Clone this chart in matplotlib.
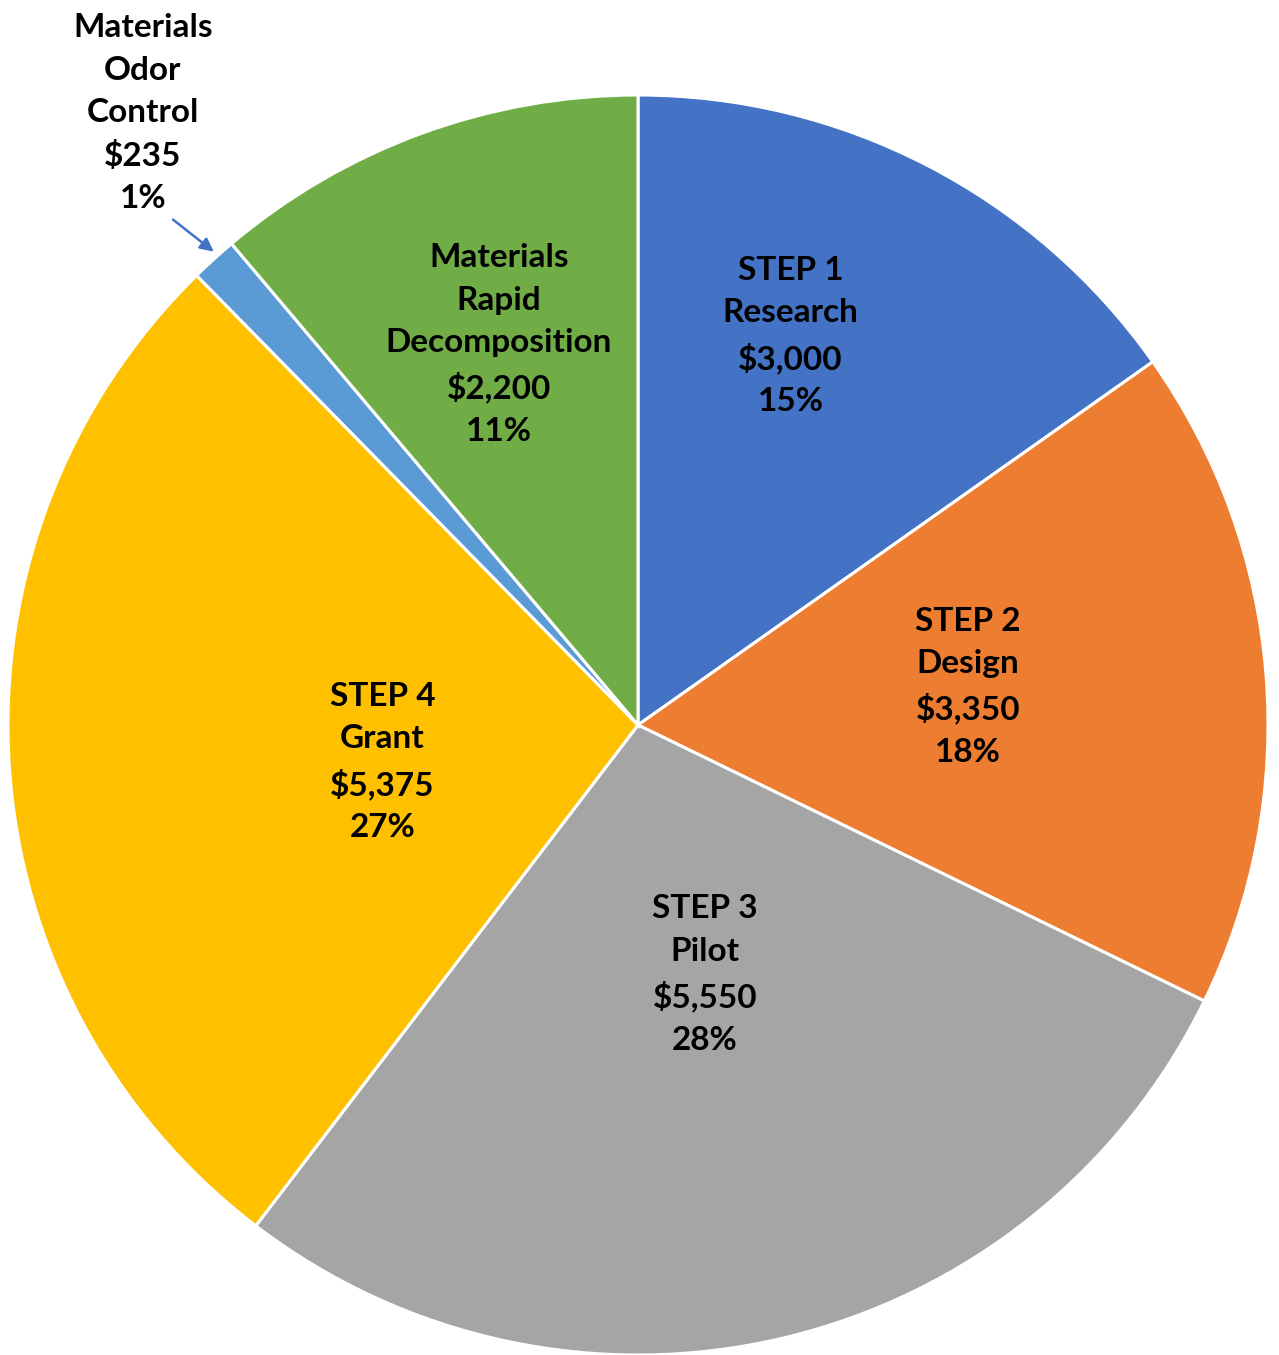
import numpy as np
import matplotlib
matplotlib.use("Agg")
from matplotlib import pyplot as plt

# data
names = ["STEP 1\nResearch", "STEP 2\nDesign", "STEP 3\nPilot", "STEP 4\nGrant",
         "Materials\nOdor\nControl", "Materials\nRapid\nDecomposition"]
costs = [3000, 3350, 5550, 5375, 235, 2200]
pct_labels = ["15%", "18%", "28%", "27%", "1%", "11%"]  # as printed on the chart
colors = ["#4472C4", "#ED7D31", "#A5A5A5", "#FFC000", "#5B9BD5", "#70AD47"]
# label radius (fraction of pie radius) and angle nudge in degrees
label_r = [0.663, 0.527, 0.41, 0.41, None, 0.643]
label_nudge = [6, 2, 1.7, 4.7, 0, 0]

plt.rcParams['font.family'] = ['Lato', 'DejaVu Sans']

fig = plt.figure(figsize=(12.79, 13.55), dpi=100)
ax = fig.add_axes([8 / 1279, 0, 1260 / 1279, 1260 / 1355])

wedges, _ = ax.pie(costs, colors=colors, startangle=90, counterclock=False,
                   radius=1, wedgeprops=dict(edgecolor="white", linewidth=2.2))
ax.set_xlim(-1, 1)
ax.set_ylim(-1, 1)
ax.set_aspect("equal")
ax.axis("off")

for i, w in enumerate(wedges):
    txt = f"{names[i]}\n${costs[i]:,}\n{pct_labels[i]}"
    mid = np.deg2rad((w.theta1 + w.theta2) / 2 + label_nudge[i])
    if label_r[i] is not None:
        x, y = label_r[i] * np.cos(mid), label_r[i] * np.sin(mid)
        ax.text(x, y, txt, ha="center", va="center", fontsize=24,
                fontweight="bold", linespacing=1.56, color="black")
    else:
        tip = (np.cos(mid), np.sin(mid) + 0.012)
        ax.annotate(txt, xy=tip, xytext=(-0.786, 0.971), ha="center", va="center",
                    fontsize=24, fontweight="bold", linespacing=1.56,
                    annotation_clip=False,
                    arrowprops=dict(arrowstyle="-|>", color="#4472C4", lw=1.8,
                                    shrinkA=4, shrinkB=0, mutation_scale=20,
                                    relpos=(0.66, 0.0)))

fig.savefig("out.png", dpi=100)
